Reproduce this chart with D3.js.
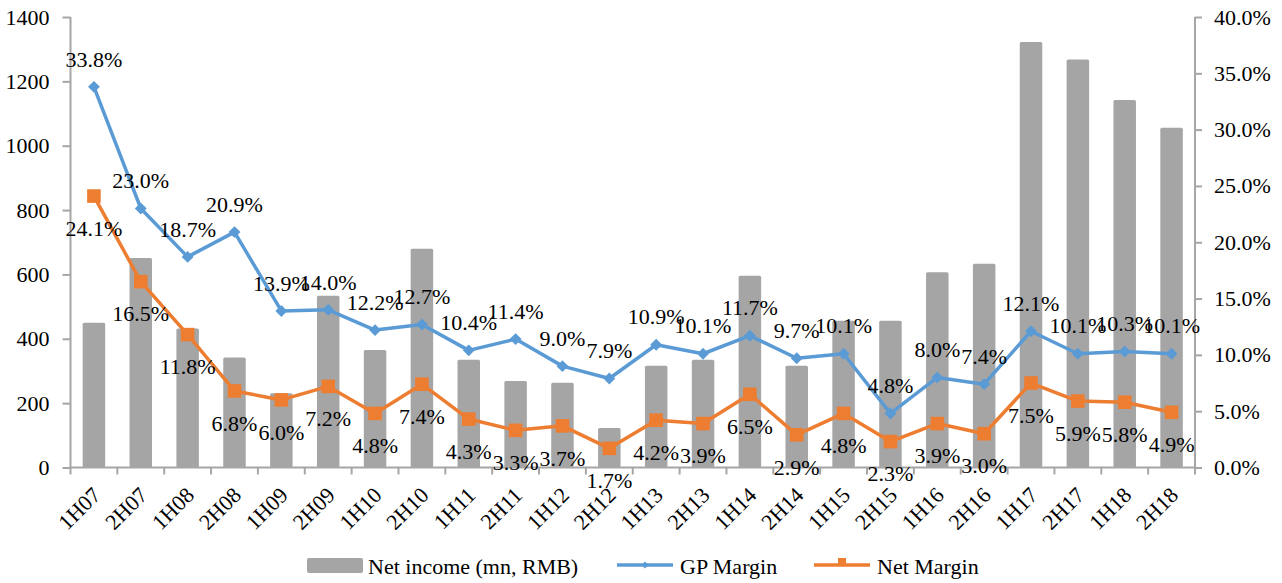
<!DOCTYPE html>
<html>
<head>
<meta charset="utf-8">
<script src="https://cdn.jsdelivr.net/npm/d3@7"></script>
<style>
  html, body { margin: 0; padding: 0; background: #fff; }
  svg { display: block; }
</style>
</head>
<body>
<svg id="chart" width="1282" height="583"></svg>
<script>
// Half-year periods
const categories = ["1H07","2H07","1H08","2H08","1H09","2H09","1H10","2H10","1H11","2H11","1H12","2H12",
                    "1H13","2H13","1H14","2H14","1H15","2H15","1H16","2H16","1H17","2H17","1H18","2H18"];
// Net income, mn RMB (left axis)
const netIncome = [450, 651, 432, 342, 231, 534, 365, 680, 335, 269, 263, 123,
                   316, 335, 596, 316, 456, 456, 607, 633, 1322, 1268, 1142, 1056];
// Gross profit margin, % (right axis)
const gpMargin = [33.8, 23.0, 18.7, 20.9, 13.9, 14.0, 12.2, 12.7, 10.4, 11.4, 9.0, 7.9,
                  10.9, 10.1, 11.7, 9.7, 10.1, 4.8, 8.0, 7.4, 12.1, 10.1, 10.3, 10.1];
// Net margin, % (right axis)
const netMargin = [24.1, 16.5, 11.8, 6.8, 6.0, 7.2, 4.8, 7.4, 4.3, 3.3, 3.7, 1.7,
                   4.2, 3.9, 6.5, 2.9, 4.8, 2.3, 3.9, 3.0, 7.5, 5.9, 5.8, 4.9];
// Axis ticks
const leftTicks = [0, 200, 400, 600, 800, 1000, 1200, 1400];
const rightTicks = [0, 5, 10, 15, 20, 25, 30, 35, 40];

const COLORS = { bar: "#A5A5A5", gp: "#5B9BD5", net: "#ED7D31", axis: "#A6A6A6" };
const FONT = 22;
const FAMILY = '"Liberation Serif", "Times New Roman", Tinos, serif';

const svg = d3.select("#chart");
const plot = { left: 70.5, right: 1195, top: 17, bottom: 467.5 };

const x = d3.scaleBand().domain(categories).range([plot.left, plot.right]).padding(0);
const yL = d3.scaleLinear().domain([0, 1400]).range([plot.bottom, plot.top]);
const yR = d3.scaleLinear().domain([0, 40]).range([plot.bottom, plot.top]);
const cx = d => x(d) + x.bandwidth() / 2;

// Bars
const barW = x.bandwidth() * 0.48;
svg.append("g").selectAll("rect").data(categories).join("rect")
  .attr("x", (d) => cx(d) - barW / 2)
  .attr("y", (d, i) => yL(netIncome[i]))
  .attr("width", barW)
  .attr("height", (d, i) => yL(0) - yL(netIncome[i]))
  .attr("rx", 1.5)
  .attr("fill", COLORS.bar);

// Left axis
const gL = svg.append("g").attr("transform", `translate(${plot.left},0)`)
  .call(d3.axisLeft(yL).tickValues(leftTicks).tickSize(8).tickPadding(13).tickFormat(d3.format("d")));
// Right axis
const gR = svg.append("g").attr("transform", `translate(${plot.right},0)`)
  .call(d3.axisRight(yR).tickValues(rightTicks).tickSize(7).tickPadding(12).tickFormat(d => d3.format(".1f")(d) + "%"));
[gL, gR].forEach(g => {
  g.select(".domain").attr("stroke", COLORS.axis).attr("stroke-width", 2)
    .attr("d", `M0,${plot.top}V${plot.bottom + 7}`);
  g.selectAll(".tick line").attr("stroke", COLORS.axis).attr("stroke-width", 2);
  g.selectAll(".tick text").attr("font-size", FONT).attr("fill", "#000");
});

// Bottom axis: baseline and boundary ticks
const gB = svg.append("g");
gB.append("line").attr("x1", plot.left).attr("x2", plot.right)
  .attr("y1", plot.bottom).attr("y2", plot.bottom)
  .attr("stroke", COLORS.axis).attr("stroke-width", 2);
gB.selectAll("line.tk").data(categories.slice(1)).join("line").attr("class", "tk")
  .attr("x1", d => x(d)).attr("x2", d => x(d))
  .attr("y1", plot.bottom).attr("y2", plot.bottom + 7)
  .attr("stroke", COLORS.axis).attr("stroke-width", 2);
gB.selectAll("text").data(categories).join("text")
  .attr("transform", d => `translate(${cx(d) + 8},${plot.bottom + 29}) rotate(-45)`)
  .attr("text-anchor", "end")
  .attr("font-size", FONT)
  .text(d => d);

// Lines with markers and value labels
function series(values, color, symbolType, symbolSize, labelDy) {
  const line = d3.line().x((d, i) => cx(categories[i])).y(d => yR(d));
  svg.append("path").datum(values)
    .attr("d", line).attr("fill", "none")
    .attr("stroke", color).attr("stroke-width", 3.5).attr("stroke-linejoin", "round");
  const sym = d3.symbol().type(symbolType).size(symbolSize);
  svg.append("g").selectAll("path").data(values).join("path")
    .attr("d", sym)
    .attr("transform", (d, i) => `translate(${cx(categories[i])},${yR(d)})`)
    .attr("fill", color);
  svg.append("g").selectAll("text").data(values).join("text")
    .attr("x", (d, i) => cx(categories[i]))
    .attr("y", d => yR(d) + labelDy)
    .attr("dy", "0.35em")
    .attr("text-anchor", "middle")
    .attr("font-size", FONT)
    .text(d => d3.format(".1f")(d) + "%");
}
series(gpMargin, COLORS.gp, d3.symbolDiamond2, 90, -28);
series(netMargin, COLORS.net, d3.symbolSquare, 185, 32);

// Legend
const lg = svg.append("g");
const legendY = 566;
lg.append("rect").attr("x", 307).attr("y", legendY - 8).attr("width", 56).attr("height", 15)
  .attr("rx", 2).attr("fill", COLORS.bar);
lg.append("text").attr("x", 368).attr("y", legendY).attr("dy", "0.35em").attr("font-size", 22)
  .text("Net income (mn, RMB)");

lg.append("line").attr("x1", 617).attr("x2", 673).attr("y1", legendY - 1).attr("y2", legendY - 1)
  .attr("stroke", COLORS.gp).attr("stroke-width", 3.5);
lg.append("path").attr("d", d3.symbol().type(d3.symbolDiamond2).size(32))
  .attr("transform", `translate(645,${legendY - 1})`).attr("fill", COLORS.gp);
lg.append("text").attr("x", 680).attr("y", legendY).attr("dy", "0.35em").attr("font-size", 22)
  .text("GP Margin");

lg.append("line").attr("x1", 814).attr("x2", 870).attr("y1", legendY - 1).attr("y2", legendY - 1)
  .attr("stroke", COLORS.net).attr("stroke-width", 3.5);
lg.append("path").attr("d", d3.symbol().type(d3.symbolSquare).size(64))
  .attr("transform", `translate(842,${legendY - 4})`).attr("fill", COLORS.net);
lg.append("text").attr("x", 877).attr("y", legendY).attr("dy", "0.35em").attr("font-size", 22)
  .text("Net Margin");

// Serif face for every text element
svg.selectAll("text").style("font-family", FAMILY).style("fill", "#000");
</script>
</body>
</html>
